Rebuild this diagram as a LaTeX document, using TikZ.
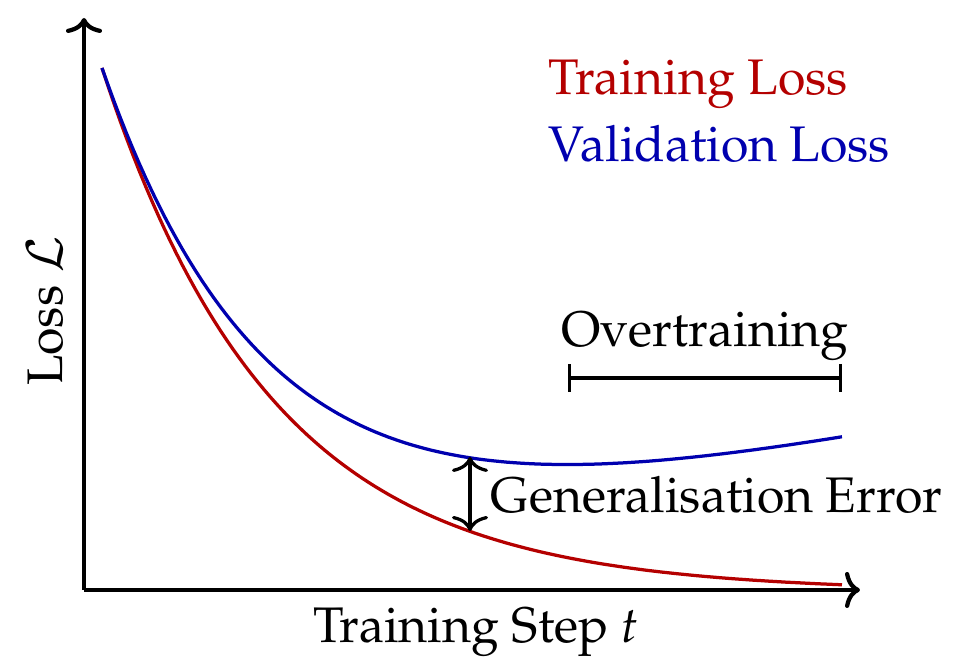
\documentclass[tikz,border=0pt]{standalone}
\usepackage[T1]{fontenc}
\usepackage{mathpazo}
\usetikzlibrary{arrows.meta}
\definecolor{trainred}{RGB}{180,0,0}
\definecolor{valblue}{RGB}{0,0,175}
\tikzset{
  bigtip/.tip={To[length=3pt,width=7.2pt]},
  axisline/.style={line width=0.85pt,-bigtip},
  curve/.style={line width=0.65pt},
  lbl/.style={font=\fontsize{10}{12}\selectfont, inner sep=0pt},
}
\begin{document}
\begin{tikzpicture}[x=0.2pt,y=-0.2pt]
\useasboundingbox (0,0) rectangle (966,661);
\coordinate (origin) at (84,590);
\coordinate (ytip) at (84,18);
\coordinate (xtip) at (860,590);
\draw[axisline] (origin) -- (ytip);
\draw[axisline] (origin) -- (xtip);
\draw[curve,trainred] plot[domain=102:842,samples=120] (\x,{591.5-523.5*exp(-(\x-102)/170)});
\draw[curve,valblue] plot[domain=102:842,samples=120] (\x,{591.5-523.5*exp(-(\x-102)/170)-0.2*(\x-102)});
\coordinate (gaptop) at (470,457);
\coordinate (gapbot) at (470,531);
\draw[line width=0.65pt,bigtip-bigtip] (gaptop) -- (gapbot);
\coordinate (ovl) at (568,378);
\coordinate (ovr) at (842,378);
\draw[line width=0.65pt,|-|] (ovl) -- (ovr);
\node[lbl,anchor=base west,text=trainred] (trainlbl) at (548,95) {Training Loss};
\node[lbl,anchor=base west,text=valblue] (vallbl) at (548,162) {Validation Loss};
\node[lbl,anchor=base] (overlbl) at (705,347) {Overtraining};
\node[lbl,anchor=west] (genlbl) at (490,495) {Generalisation Error};
\node[lbl,anchor=base] (xlbl) at (476,643) {Training Step $t$};
\node[lbl,anchor=base,rotate=90] (ylbl) at (62,311) {Loss $\mathcal{L}$};
\end{tikzpicture}
\end{document}
